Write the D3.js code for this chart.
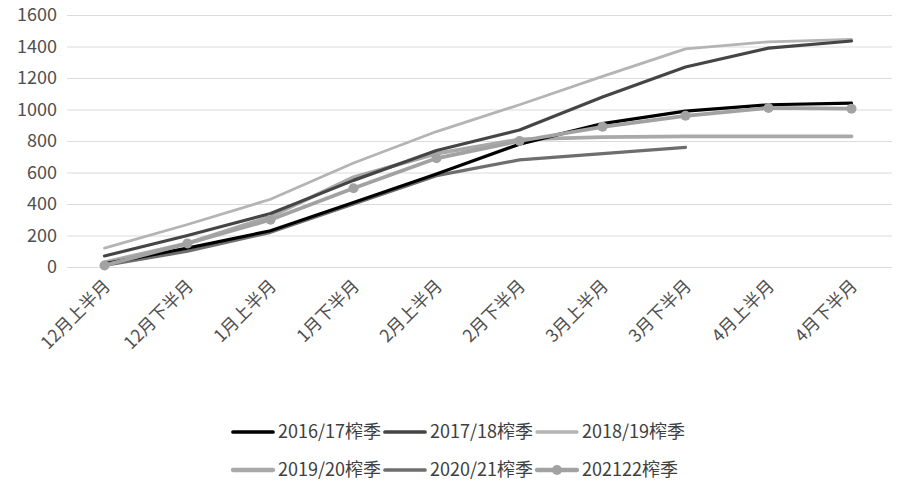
<!DOCTYPE html>
<html>
<head>
<meta charset="utf-8">
<script src="https://cdn.jsdelivr.net/npm/d3@7"></script>
<style>
  html, body { margin: 0; padding: 0; background: #fff; }
  svg { display: block; }
  text { font-family: "Liberation Sans Narrow", "Noto Sans CJK SC", sans-serif; fill: #404040; }
</style>
</head>
<body>
<svg id="chart" width="900" height="494"></svg>
<script>
const categories = ["12月上半月","12月下半月","1月上半月","1月下半月","2月上半月","2月下半月","3月上半月","3月下半月","4月上半月","4月下半月"];
const yTicks = [0,200,400,600,800,1000,1200,1400,1600];

const s2016 = [20, 120, 230, 410, 590, 780, 910, 990, 1030, 1040];
const s2017 = [70, 200, 340, 550, 740, 870, 1080, 1270, 1390, 1435];
const s2018 = [120, 270, 430, 660, 860, 1030, 1210, 1385, 1430, 1445];
const s2019 = [30, 150, 320, 570, 720, 810, 825, 830, 830, 830];
const s2020 = [10, 100, 220, 400, 580, 680, 720, 760, null, null];
const s2021 = [10, 150, 300, 500, 690, 800, 890, 960, 1010, 1005];

const seriesNames = ["2016/17榨季","2017/18榨季","2018/19榨季","2019/20榨季","2020/21榨季","202122榨季"];
const seriesData = [s2016, s2017, s2018, s2019, s2020, s2021];
const colors = ["#000000", "#454545", "#b4b4b4", "#a9a9a9", "#6e6e6e", "#a2a2a2"];
const widths = [3.2, 3.2, 2.8, 3.8, 3.2, 3.8];

const svg = d3.select("#chart");
const x = d3.scaleBand().domain(categories).range([63, 893]).paddingInner(0).paddingOuter(0);
const y = d3.scaleLinear().domain([0, 1600]).range([267, 15]);
const cx = d => x(d) + x.bandwidth() / 2;

// gridlines + y labels
const yAxis = d3.axisLeft(y).tickValues(yTicks).tickFormat(d3.format("d")).tickSize(-(892 - 67)).tickPadding(10);
const gy = svg.append("g").attr("transform", "translate(67,0)").call(yAxis);
gy.select(".domain").remove();
gy.selectAll(".tick line").attr("stroke", "#dcdcdc").attr("stroke-width", 1.2);
gy.selectAll(".tick text").attr("font-size", 18).style("fill", "#505050").attr("x", -10);

// x labels
const gx = svg.append("g");
gx.selectAll("text").data(categories).join("text")
  .attr("transform", d => `translate(${cx(d) + 7},${287}) rotate(-45)`)
  .attr("text-anchor", "end")
  .attr("font-size", 17.5)
  .style("fill", "#505050")
  .text(d => d);

// lines
const line = d3.line()
  .defined(d => d.v !== null)
  .x(d => cx(d.c))
  .y(d => y(d.v));

const drawOrder = [3, 4, 0, 2, 1, 5];
drawOrder.forEach(i => {
  const pts = categories.map((c, j) => ({ c, v: seriesData[i][j] }));
  svg.append("path")
    .datum(pts)
    .attr("fill", "none")
    .attr("stroke", colors[i])
    .attr("stroke-width", widths[i])
    .attr("stroke-linejoin", "round")
    .attr("stroke-linecap", "round")
    .attr("d", line);
  if (i === 5) {
    svg.append("g").selectAll("circle").data(pts.filter(p => p.v !== null)).join("circle")
      .attr("cx", d => cx(d.c))
      .attr("cy", d => y(d.v))
      .attr("r", 5)
      .attr("fill", colors[i]);
  }
});

// legend
const legendPos = [
  { x: 233, y: 432 }, { x: 385, y: 432 }, { x: 537, y: 432 },
  { x: 233, y: 470 }, { x: 385, y: 470 }, { x: 537, y: 470 }
];
seriesNames.forEach((name, i) => {
  const p = legendPos[i];
  const g = svg.append("g").attr("transform", `translate(${p.x},${p.y})`);
  g.append("line").attr("x1", 0).attr("x2", 40).attr("y1", 0).attr("y2", 0)
    .attr("stroke", colors[i]).attr("stroke-width", widths[i] + 0.5).attr("stroke-linecap", "round");
  if (i === 5) g.append("circle").attr("cx", 20).attr("cy", 0).attr("r", 5).attr("fill", colors[i]);
  g.append("text").attr("x", 45).attr("y", 0).attr("dy", "0.36em")
    .attr("font-size", 18).style("fill", "#404040").text(name);
});
</script>
</body>
</html>
